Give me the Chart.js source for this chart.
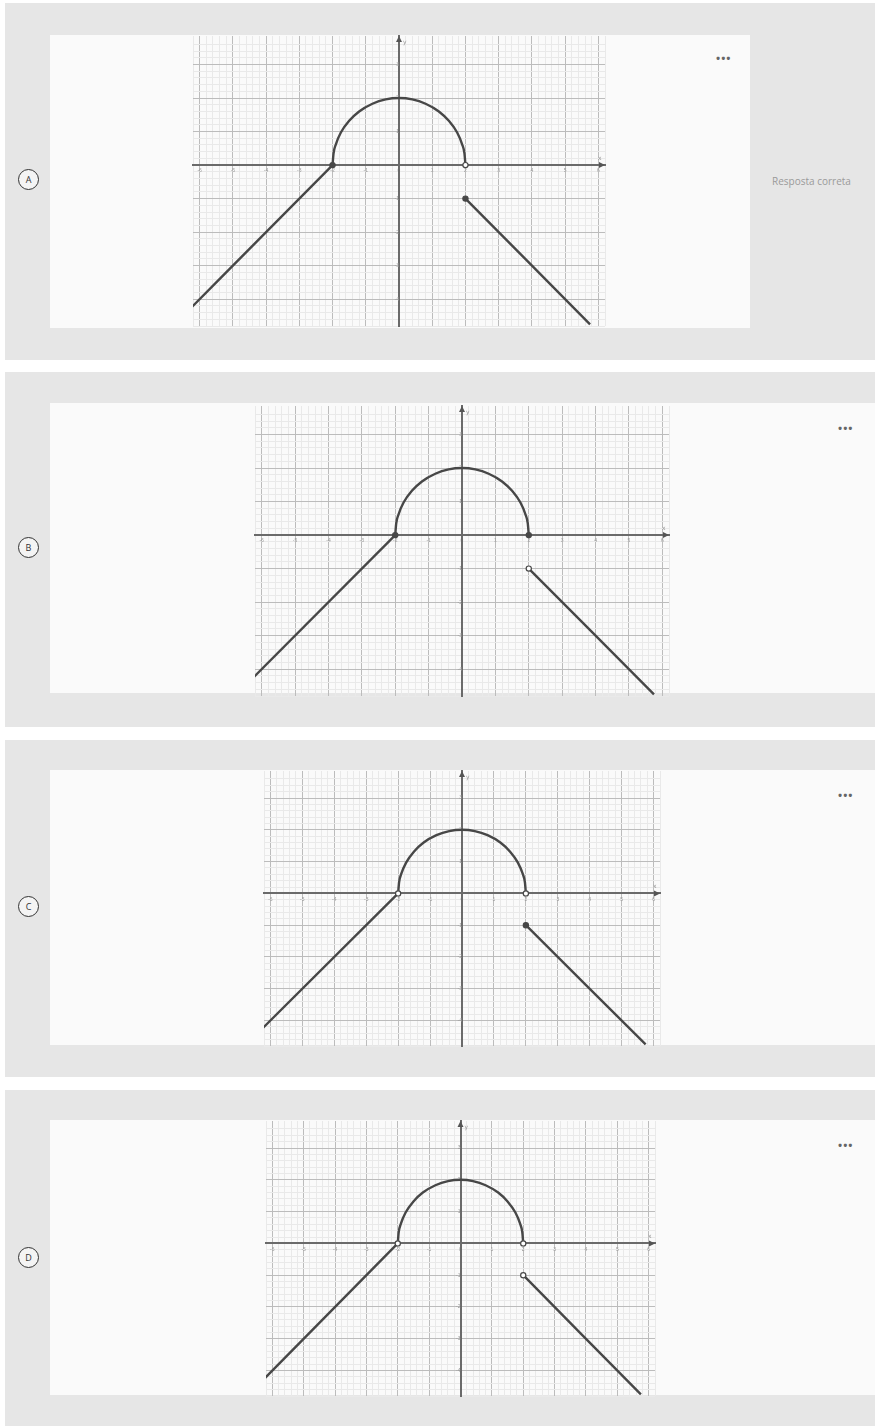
<!DOCTYPE html>
<html>
<head>
<meta charset="utf-8">
<script src="https://cdn.jsdelivr.net/npm/chart.js@4.4.0/dist/chart.umd.min.js"></script>
<style>
  body { margin: 0; width: 875px; height: 1426px; position: relative; overflow: hidden; background: #fff; font-family: "Open Sans", Arial, sans-serif; }
  .card { position: absolute; left: 5px; width: 870px; background: #e6e6e6; }
  .inner { position: absolute; background: #fafafa; }
  .letter { position: absolute; left: 18px; width: 19px; height: 19px; margin-top: -11px; border: 1.8px solid #333; border-radius: 50%;
            font-size: 9px; line-height: 19px; text-align: center; color: #333; background: #f4f4f4; }
  .dots { position: absolute; font-size: 11px; color: #666; letter-spacing: 1px; line-height: 10px; font-weight: bold; }
  .note { position: absolute; left: 772px; top: 174px; width: 103px; overflow: hidden; white-space: nowrap; font-size: 10px; color: #9a9a9a; }
  .plot { position: absolute; }
</style>
</head>
<body>

<div class="card" style="top:3px;height:357px"></div>
<div class="inner" style="left:50px;top:35px;width:700px;height:293px"></div>
<div class="card" style="top:372px;height:355px"></div>
<div class="inner" style="left:50px;top:403px;width:825px;height:290px"></div>
<div class="card" style="top:740px;height:337px"></div>
<div class="inner" style="left:50px;top:770px;width:825px;height:275px"></div>
<div class="card" style="top:1090px;height:336px"></div>
<div class="inner" style="left:50px;top:1120px;width:825px;height:275px"></div>

<div class="letter" style="top:180px">A</div>
<div class="letter" style="top:548px">B</div>
<div class="letter" style="top:907px">C</div>
<div class="letter" style="top:1258px">D</div>

<div class="dots" style="left:716px;top:53px">&bull;&bull;&bull;</div>
<div class="dots" style="left:838px;top:423px">&bull;&bull;&bull;</div>
<div class="dots" style="left:838px;top:790px">&bull;&bull;&bull;</div>
<div class="dots" style="left:838px;top:1140px">&bull;&bull;&bull;</div>

<div class="note">Resposta correta</div>

<div class="plot" style="left:190px;top:30px;width:418px;height:302px"><canvas id="plotA" width="418" height="302"></canvas></div>
<div class="plot" style="left:252px;top:400px;width:420px;height:302px"><canvas id="plotB" width="420" height="302"></canvas></div>
<div class="plot" style="left:261px;top:765px;width:402px;height:287px"><canvas id="plotC" width="402" height="287"></canvas></div>
<div class="plot" style="left:263px;top:1115px;width:395px;height:287px"><canvas id="plotD" width="395" height="287"></canvas></div>

<script>
// --- piecewise function ---
const LEFT_X = [-6.3, -2];
const LEFT_Y = [-4.3, 0];

const ARC_X = [-2, -1.97, -1.9, -1.75, -1.5, -1.2, -0.8, -0.4, 0, 0.4, 0.8, 1.2, 1.5, 1.75, 1.9, 1.97, 2];
const ARC_Y = [0, 0.35, 0.62, 0.97, 1.32, 1.6, 1.83, 1.96, 2, 1.96, 1.83, 1.6, 1.32, 0.97, 0.62, 0.35, 0];

const RIGHT_X = [2, 5.75];
const RIGHT_Y = [-1, -4.75];

// endpoints at (-2,0), (2,0), (2,-1)
const END_X = [-2, 2, 2];
const END_Y = [0, 0, -1];

// which endpoints are filled, per option
const PANELS = ['plotA', 'plotB', 'plotC', 'plotD'];
const FILLED = [
  [true, false, true],
  [true, true, false],
  [false, false, true],
  [false, false, false]
];

const X_LABELS = [-6, -5, -4, -3, -2, -1, 0, 1, 2, 3, 4, 5, 6];
const Y_LABELS = [3, 2, 1, -1, -2, -3, -4];

const INK = '#474747';

const toPts = (xs, ys) => xs.map((x, i) => ({ x, y: ys[i] }));
const isInt = v => Math.abs(v - Math.round(v)) < 1e-6;
const isMinor = v => Math.abs(v * 5 - Math.round(v * 5)) < 1e-6;

function gridColor(v) {
  if (isInt(v)) return Math.round(v) === 0 ? 'rgba(0,0,0,0)' : '#bcbcbc';
  return isMinor(v) ? '#e9e9e9' : 'rgba(0,0,0,0)';
}

// arrows + axis names
const axisArrows = {
  id: 'axisArrows',
  afterDatasetsDraw(chart) {
    const { ctx, chartArea, scales: { x, y } } = chart;
    const x0 = x.getPixelForValue(0), y0 = y.getPixelForValue(0);
    ctx.save();
    ctx.fillStyle = '#555';
    ctx.beginPath();
    ctx.moveTo(chartArea.right, y0);
    ctx.lineTo(chartArea.right - 6, y0 - 3);
    ctx.lineTo(chartArea.right - 6, y0 + 3);
    ctx.fill();
    ctx.beginPath();
    ctx.moveTo(x0, chartArea.top);
    ctx.lineTo(x0 - 3, chartArea.top + 6);
    ctx.lineTo(x0 + 3, chartArea.top + 6);
    ctx.fill();
    ctx.fillStyle = '#999';
    ctx.font = '6px "DejaVu Sans"';
    ctx.fillText('x', chartArea.right - 7, y0 - 5);
    ctx.fillText('y', x0 + 4, chartArea.top + 8);
    ctx.restore();
  }
};

function makePanel(id, filled) {
  const endpoints = END_X.map((x, i) => ({
    type: 'scatter',
    data: [{ x, y: END_Y[i] }],
    pointRadius: 2.6,
    pointBorderWidth: 1.2,
    pointBorderColor: INK,
    pointBackgroundColor: filled[i] ? INK : '#ffffff',
    clip: false
  }));
  const pieces = [
    toPts(LEFT_X, LEFT_Y),
    toPts(ARC_X, ARC_Y),
    toPts(RIGHT_X, RIGHT_Y)
  ].map(data => ({
    type: 'scatter',
    data,
    showLine: true,
    pointRadius: 0,
    borderColor: INK,
    borderWidth: 2.4,
    cubicInterpolationMode: 'monotone'
  }));

  new Chart(document.getElementById(id), {
    type: 'scatter',
    data: { datasets: endpoints.concat(pieces) },
    options: {
      responsive: false,
      animation: false,
      layout: { padding: 0, autoPadding: false },
      plugins: { legend: { display: false }, tooltip: { enabled: false } },
      scales: {
        x: {
          type: 'linear', min: -6.2, max: 6.2, position: { y: 0 },
          border: { color: '#6a6a6a', width: 2 },
          grid: { color: c => gridColor(c.tick.value), lineWidth: 1, drawTicks: false },
          ticks: {
            stepSize: 0.2, autoSkip: false, maxRotation: 0, padding: 3,
            color: '#9a9a9a', font: { size: 5 },
            callback: v => (isInt(v) && X_LABELS.includes(Math.round(v))) ? String(Math.round(v)) : ''
          }
        },
        y: {
          type: 'linear', min: -4.8, max: 3.85, position: { x: 0 },
          border: { color: '#6a6a6a', width: 2 },
          grid: { color: c => gridColor(c.tick.value), lineWidth: 1, drawTicks: false },
          ticks: {
            stepSize: 0.2, autoSkip: false, padding: 3,
            color: '#9a9a9a', font: { size: 5 },
            callback: v => (isInt(v) && Y_LABELS.includes(Math.round(v))) ? String(Math.round(v)) : ''
          }
        }
      }
    },
    plugins: [axisArrows]
  });
}

PANELS.forEach((id, i) => makePanel(id, FILLED[i]));
</script>
</body>
</html>
